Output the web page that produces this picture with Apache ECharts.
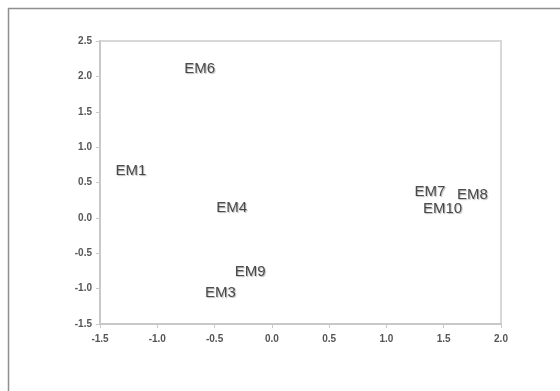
<!DOCTYPE html>
<html>
<head>
<meta charset="utf-8">
<script src="https://cdn.jsdelivr.net/npm/echarts@6/dist/echarts.min.js"></script>
<style>
  html, body { margin: 0; padding: 0; background: #fff; }
  #chart { width: 560px; height: 391px; }
</style>
</head>
<body>
<div id="chart"></div>
<script>
// Sample names and their coordinates on the two components
var names = ['EM1', 'EM3', 'EM4', 'EM6', 'EM7', 'EM8', 'EM9', 'EM10'];
var xValues = [-1.23, -0.45, -0.35, -0.63, 1.38, 1.75, -0.19, 1.49];
var yValues = [0.66, -1.06, 0.14, 2.10, 0.37, 0.32, -0.77, 0.13];

var points = names.map(function (n, i) {
  return { name: n, value: [xValues[i], yValues[i]] };
});

var chart = echarts.init(document.getElementById('chart'));

var tickLabel = {
  color: '#555',
  fontFamily: 'Liberation Sans, Arial, sans-serif',
  fontSize: 10,
  fontWeight: 'bold'
};

chart.setOption({
  animation: false,
  backgroundColor: '#fff',
  graphic: [
    // frame around the figure (top and left edges)
    { type: 'line', shape: { x1: 8, y1: 8.5, x2: 560, y2: 8.5 }, style: { stroke: '#8f8f8f', lineWidth: 1.5 } },
    { type: 'line', shape: { x1: 8.5, y1: 8, x2: 8.5, y2: 391 }, style: { stroke: '#8f8f8f', lineWidth: 1.5 } }
  ],
  grid: {
    left: 100, right: 59, top: 41, bottom: 67,
    show: true,
    borderColor: '#d8d8d8',
    borderWidth: 2,
    backgroundColor: 'transparent'
  },
  xAxis: {
    type: 'value',
    min: -1.5, max: 2.0, interval: 0.5,
    axisLine: { show: true, onZero: false, lineStyle: { color: '#c8c8c8', width: 2 } },
    axisTick: { show: true, length: 4, lineStyle: { color: '#c8c8c8' } },
    splitLine: { show: false },
    axisLabel: Object.assign({ margin: 10, formatter: function (v) { return v.toFixed(1); } }, tickLabel)
  },
  yAxis: {
    type: 'value',
    min: -1.5, max: 2.5, interval: 0.5,
    axisLine: { show: true, onZero: false, lineStyle: { color: '#c8c8c8', width: 2 } },
    axisTick: { show: true, length: 4, lineStyle: { color: '#c8c8c8' } },
    splitLine: { show: false },
    axisLabel: Object.assign({ margin: 8, formatter: function (v) { return v.toFixed(1); } }, tickLabel)
  },
  series: [{
    type: 'scatter',
    data: points,
    symbolSize: 1,
    itemStyle: { color: 'rgba(0,0,0,0)' },
    label: {
      show: true,
      position: 'inside',
      formatter: '{b}',
      color: '#222',
      fontFamily: 'Liberation Sans, Arial, sans-serif',
      fontSize: 15,
      textShadowColor: 'rgba(0,0,0,0.35)',
      textShadowBlur: 1,
      textShadowOffsetX: 1,
      textShadowOffsetY: 1
    },
    labelLayout: { hideOverlap: false }
  }]
});
</script>
</body>
</html>
